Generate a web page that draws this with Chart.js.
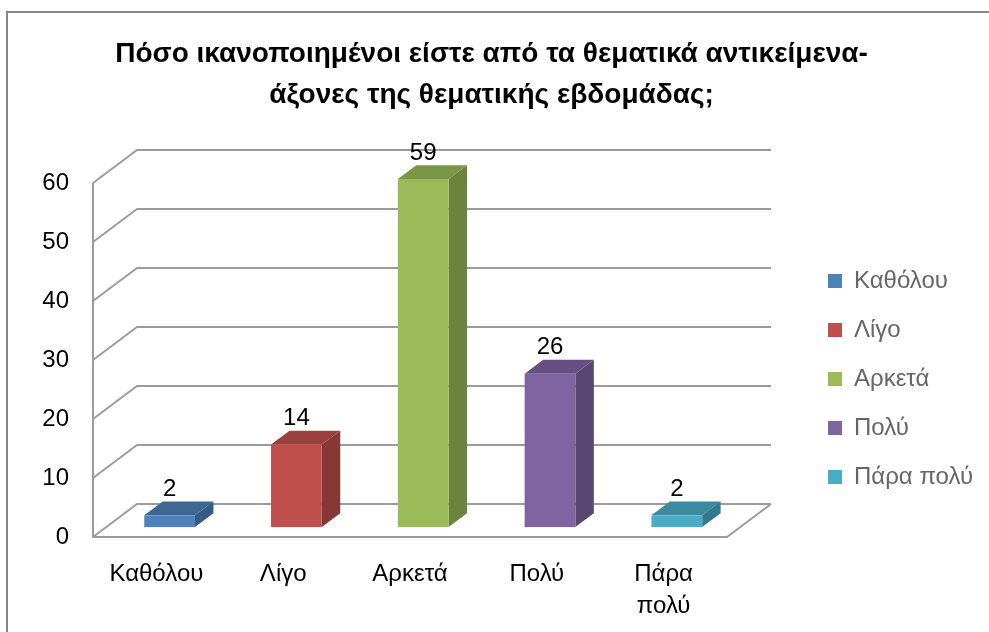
<!DOCTYPE html>
<html>
<head>
<meta charset="utf-8">
<script src="https://cdn.jsdelivr.net/npm/chart.js@4.4.1/dist/chart.umd.min.js"></script>
<style>
  html, body { margin: 0; padding: 0; background: #fff; }
</style>
</head>
<body>
<canvas id="chart" width="989" height="632"></canvas>
<script>
// data
const titleLines = ['Πόσο ικανοποιημένοι είστε από τα θεματικά αντικείμενα-', 'άξονες της θεματικής εβδομάδας;'];
const categories = ['Καθόλου', 'Λίγο', 'Αρκετά', 'Πολύ', 'Πάρα πολύ'];
const tickLabels = ['Καθόλου', 'Λίγο', 'Αρκετά', 'Πολύ', ['Πάρα', 'πολύ']];
const responses = [2, 14, 59, 26, 2];
const yMin = 0, yMax = 60, yStep = 10;

// colours (front, top, side faces)
const frontColors = ['#4f81bd', '#c0504d', '#9bbb59', '#8064a2', '#4bacc6'];
const topColors = ['#3f6796', '#9a403e', '#7c9647', '#664f82', '#3c8a9f'];
const sideColors = ['#375a84', '#863836', '#6c833e', '#594671', '#34788b'];

const FONT = 'Liberation Sans, Arial, sans-serif';
const FS = 24;
const depthX = 44, depthY = -33;       // wall depth
const barFront = 0.3, barDepth = 0.42; // bar position inside the depth
const barShare = 0.4;                  // bar width / category width

// legend placement: squares at x = 833
const legendPad = 25, legendBox = 14, legendLeft = 838 - legendPad;
const mctx = document.createElement('canvas').getContext('2d');
mctx.font = FS + 'px ' + FONT;
const legendText = Math.max(...categories.map(c => mctx.measureText(c).width));
const legendWidth = legendPad + legendBox + FS / 2 + legendText;
const padRight = Math.max(0, 989 - legendLeft - legendWidth);

const box3d = {
  id: 'box3d',
  beforeDraw(chart) {
    const ctx = chart.ctx;
    ctx.save();
    ctx.fillStyle = '#fff';
    ctx.fillRect(0, 0, chart.width, chart.height);
    ctx.strokeStyle = '#878787';
    ctx.lineWidth = 2;
    ctx.strokeRect(7, 12, chart.width + 20, chart.height + 20);
    ctx.restore();
  },
  beforeDatasetsDraw(chart) {
    const { ctx, chartArea: a, scales: { x, y } } = chart;
    ctx.save();
    ctx.strokeStyle = '#9b9b9b';
    ctx.lineWidth = 2;
    ctx.lineJoin = 'round';

    // side wall + back wall gridlines
    y.ticks.forEach(t => {
      const py = y.getPixelForValue(t.value);
      ctx.beginPath();
      ctx.moveTo(a.left, py);
      ctx.lineTo(a.left + depthX, py + depthY);
      ctx.lineTo(a.right + depthX, py + depthY);
      ctx.stroke();
    });
    // front edge + floor
    ctx.beginPath();
    ctx.moveTo(a.left, y.getPixelForValue(yMax));
    ctx.lineTo(a.left, a.bottom);
    ctx.lineTo(a.right, a.bottom);
    ctx.lineTo(a.right + depthX, a.bottom + depthY);
    ctx.stroke();

    // 3d columns
    const data = chart.data.datasets[0].data;
    const step = x.getPixelForValue(1) - x.getPixelForValue(0);
    const ox = barFront * depthX, oy = barFront * depthY;
    const dx = barDepth * depthX, dy = barDepth * depthY;
    data.forEach((v, i) => {
      const cx = x.getPixelForValue(i) + ox;
      const xl = cx - step * barShare / 2, xr = cx + step * barShare / 2;
      const yb = y.getPixelForValue(0) + oy, yt = y.getPixelForValue(v) + oy;

      ctx.fillStyle = sideColors[i];
      ctx.beginPath();
      ctx.moveTo(xr, yt); ctx.lineTo(xr + dx, yt + dy);
      ctx.lineTo(xr + dx, yb + dy); ctx.lineTo(xr, yb);
      ctx.closePath(); ctx.fill();

      ctx.fillStyle = topColors[i];
      ctx.beginPath();
      ctx.moveTo(xl, yt); ctx.lineTo(xr, yt);
      ctx.lineTo(xr + dx, yt + dy); ctx.lineTo(xl + dx, yt + dy);
      ctx.closePath(); ctx.fill();

      ctx.fillStyle = frontColors[i];
      ctx.fillRect(xl, yt, xr - xl, yb - yt);

      // value label
      ctx.fillStyle = '#000';
      ctx.font = FS + 'px ' + FONT;
      ctx.textAlign = 'center';
      ctx.textBaseline = 'middle';
      ctx.fillText(String(v), cx, yt - 26);
    });
    ctx.restore();
    return false;
  }
};

new Chart(document.getElementById('chart'), {
  type: 'bar',
  data: {
    labels: categories,
    datasets: [{ label: 'Απαντήσεις', data: responses, backgroundColor: frontColors }]
  },
  options: {
    responsive: false,
    animation: false,
    layout: { padding: { left: 0, right: padRight, top: 0, bottom: 0 } },
    plugins: {
      tooltip: { enabled: false },
      title: {
        display: true,
        text: titleLines,
        color: '#000',
        font: { family: FONT, size: 28, weight: 'bold', lineHeight: 41 / 28 },
        padding: { top: 33.5, bottom: 67.5 }
      },
      legend: {
        position: 'right',
        align: 'center',
        maxWidth: 240,
        title: { display: true, text: ' ', font: { size: 4, lineHeight: 1 }, padding: { top: 122, bottom: 0 } },
        labels: {
          color: '#000',
          font: { family: FONT, size: FS },
          boxWidth: legendBox,
          boxHeight: legendBox,
          padding: legendPad,
          generateLabels: () => categories.map((c, i) => ({
            text: c, fillStyle: frontColors[i], strokeStyle: frontColors[i],
            lineWidth: 0, hidden: false, index: i
          }))
        }
      }
    },
    scales: {
      x: {
        grid: { display: false, drawTicks: false },
        border: { display: false },
        ticks: {
          color: '#000',
          font: { family: FONT, size: FS, lineHeight: 32 / FS },
          padding: 21,
          maxRotation: 0,
          autoSkip: false,
          callback: (v, i) => tickLabels[i]
        },
        afterFit: s => { s.height = 95; }
      },
      y: {
        min: yMin,
        max: yMax,
        grid: { display: false, drawTicks: false },
        border: { display: false },
        ticks: {
          stepSize: yStep,
          color: '#000',
          font: { family: FONT, size: FS },
          padding: 24
        },
        afterFit: s => { s.width = 93; }
      },
      gap: {
        type: 'linear',
        axis: 'y',
        position: 'right',
        grid: { display: false },
        border: { display: false },
        ticks: { display: false },
        afterFit: s => { s.width = 76; }
      }
    }
  },
  plugins: [box3d]
});
</script>
</body>
</html>
